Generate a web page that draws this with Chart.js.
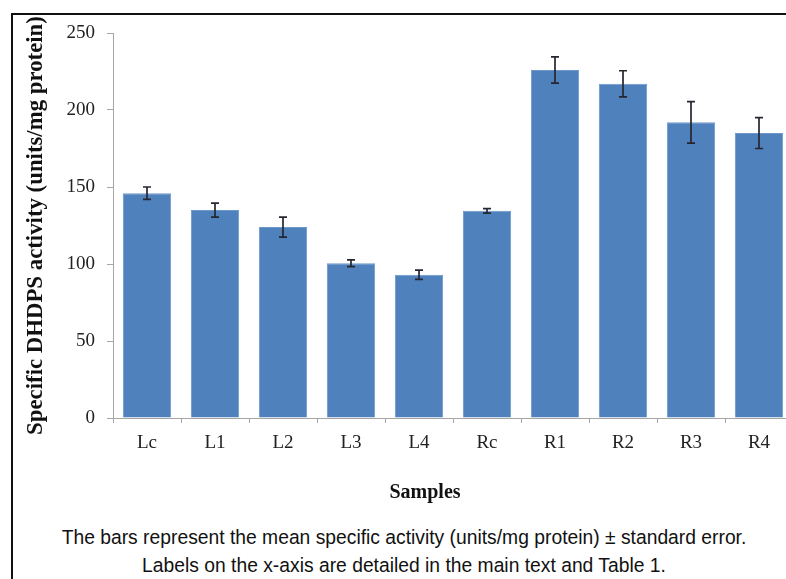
<!DOCTYPE html>
<html>
<head>
<meta charset="utf-8">
<script src="https://cdn.jsdelivr.net/npm/chart.js@4"></script>
<style>
  html, body { margin: 0; padding: 0; background: #fff; overflow: hidden; }
  body { width: 786px; height: 579px; position: relative; }
  #frame { position: absolute; left: 11px; top: 13px; width: 800px; height: 600px;
           border-top: 2px solid #111; border-left: 2px solid #111; }
  #wrap { position: absolute; left: 0; top: 0; width: 830px; height: 520px; }
  .cap { position: absolute; left: 0; width: 808px; text-align: center; line-height: 22px;
         font-family: "Liberation Sans", Arial, sans-serif; font-size: 19.3px; color: #111; }
</style>
</head>
<body>
<div id="frame"></div>
<div id="wrap"><canvas id="dhdpsChart" width="830" height="520"></canvas></div>
<div class="cap" style="top:527px">The bars represent the mean specific activity (units/mg protein) ± standard error.</div>
<div class="cap" style="top:555px">Labels on the x-axis are detailed in the main text and Table 1.</div>
<script>
const samples = ['Lc', 'L1', 'L2', 'L3', 'L4', 'Rc', 'R1', 'R2', 'R3', 'R4'];
const activity = [146, 135, 124, 100.5, 93, 134.5, 226, 217, 192, 185];
const stdError = [4, 4.5, 6.5, 2.2, 3, 1.5, 8.5, 8.5, 13.5, 10];
const yTicks = [0, 50, 100, 150, 200, 250];

const serif = '"Liberation Serif", "Times New Roman", serif';

// barras de error y titulo del eje x
const errorBars = {
  id: 'errorBars',
  afterDatasetsDraw(chart) {
    const ctx = chart.ctx;
    const y = chart.scales.y;
    const meta = chart.getDatasetMeta(0);
    ctx.save();
    ctx.strokeStyle = '#262630';
    ctx.lineWidth = 1.7;
    meta.data.forEach((bar, i) => {
      const top = y.getPixelForValue(activity[i] + stdError[i]);
      const bot = y.getPixelForValue(activity[i] - stdError[i]);
      ctx.beginPath();
      ctx.moveTo(bar.x, top); ctx.lineTo(bar.x, bot);
      ctx.moveTo(bar.x - 4, top); ctx.lineTo(bar.x + 4, top);
      ctx.moveTo(bar.x - 4, bot); ctx.lineTo(bar.x + 4, bot);
      ctx.stroke();
    });
    ctx.fillStyle = '#111';
    ctx.font = 'bold 20px ' + serif;
    ctx.textAlign = 'center';
    ctx.textBaseline = 'middle';
    ctx.fillText('Samples', 425, 493);
    ctx.restore();
  }
};

const config = {
  type: 'bar',
  data: {
    labels: samples,
    datasets: [{
      label: 'Specific activity',
      data: activity,
      backgroundColor: '#4f81bd',
      borderColor: '#6d98cc',
      borderWidth: 1,
      barPercentage: 0.71,
      categoryPercentage: 1
    }]
  },
  options: {
    responsive: false,
    animation: false,
    layout: { padding: { left: 12, top: 33, right: 37, bottom: 0 } },
    plugins: { legend: { display: false }, tooltip: { enabled: false } },
    scales: {
      x: {
        afterFit: (s) => { s.height = 102; },
        border: { color: '#a6a6a6', width: 1 },
        grid: { drawOnChartArea: false, tickLength: 5, color: '#a6a6a6' },
        ticks: { color: '#222', padding: 9, font: { family: serif, size: 19 } }
      },
      y: {
        min: 0,
        max: 250,
        afterFit: (s) => { s.width = 101; },
        afterBuildTicks: (s) => { s.ticks = yTicks.map(v => ({ value: v })); },
        border: { color: '#a6a6a6', width: 1 },
        grid: { drawOnChartArea: false, tickLength: 6, color: '#a6a6a6' },
        ticks: { color: '#222', padding: 12, font: { family: serif, size: 19 } },
        title: {
          display: true,
          text: 'Specific DHDPS activity (units/mg protein)',
          color: '#111',
          padding: { top: 10, bottom: 0 },
          font: { family: serif, size: 22.8, weight: 'bold' }
        }
      }
    }
  },
  plugins: [errorBars]
};

let dhdpsChart = new Chart(document.getElementById('dhdpsChart'), config);
</script>
</body>
</html>
